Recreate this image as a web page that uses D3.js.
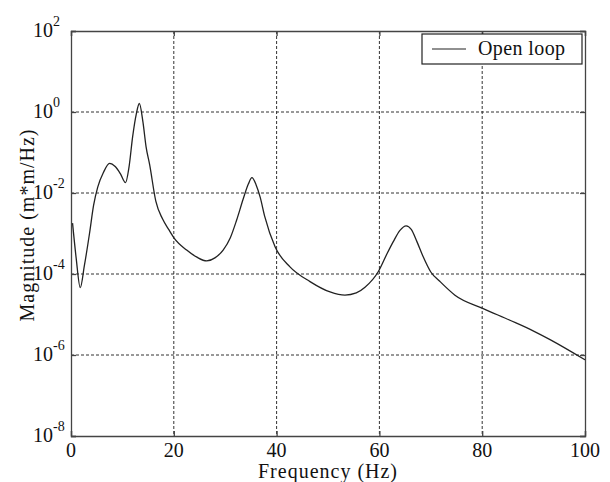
<!DOCTYPE html>
<html>
<head>
<meta charset="utf-8">
<script src="https://cdn.jsdelivr.net/npm/d3@7"></script>
<style>
  body { margin: 0; background: #fff; }
  text { font-family: "Liberation Serif", "Times New Roman", serif; fill: #111; }
</style>
</head>
<body>
<div id="vis"></div>
<script>
// frequency (Hz) and magnitude (m*m/Hz)
var freq = [0.3, 1.0, 1.8, 2.6, 3.6, 4.4, 5.2, 6.3, 7.5, 8.6, 9.6, 10.6, 11.3, 12.0, 12.7,
    13.3, 14.0, 14.6, 15.3, 16.5, 17.8, 19.0, 20.1, 22.5, 24.5, 26.4, 28.0, 29.6, 31.0, 32.2,
    33.5, 34.5, 35.2, 36.0, 36.8, 37.7, 39.7, 42.6, 46.5, 50.4, 53.3, 55.5, 57.2, 59.8, 61.5,
    62.7, 64.0, 65.2, 66.2, 67.3, 68.5, 70.0, 71.8, 74.7, 80.2, 85.4, 90.0, 93.2, 100];
var magnitude = [1.8e-3, 2.5e-4, 4.6e-5, 1.6e-4, 1.0e-3, 5.0e-3, 1.4e-2, 3.2e-2, 5.4e-2, 4.5e-2,
    3.0e-2, 1.8e-2, 4.5e-2, 2.5e-1, 8.9e-1, 1.62, 5.6e-1, 1.4e-1, 5.0e-2, 6.3e-3,
    2.3e-3, 1.26e-3, 7.6e-4, 3.9e-4, 2.6e-4, 2.1e-4, 2.5e-4, 3.9e-4, 7.9e-4, 2.1e-3,
    7.1e-3, 1.66e-2, 2.4e-2, 1.6e-2, 7.9e-3, 2.6e-3, 4.7e-4, 1.5e-4, 6.5e-5, 3.6e-5,
    3.0e-5, 3.4e-5, 4.7e-5, 1.15e-4, 3.2e-4, 6.3e-4, 1.2e-3, 1.55e-3, 1.26e-3, 6.3e-4,
    2.7e-4, 1.12e-4, 6.5e-5, 3.0e-5, 1.4e-5, 7.2e-6, 3.9e-6, 2.4e-6, 7.6e-7];

// tick values
var xTicks = [0, 20, 40, 60, 80, 100];
var yTicks = [1e2, 1e0, 1e-2, 1e-4, 1e-6, 1e-8];
var yExponents = ["2", "0", "-2", "-4", "-6", "-8"];

var seriesName = "Open loop";

var width = 610;
var height = 482;

var margin = {
    top: 31,
    left: 71,
    right: 25,
    bottom: 46
};

var svg = d3.select("#vis")
    .append("svg")
    .attr("width", width)
    .attr("height", height);

var w = width - margin.left - margin.right;
var h = height - margin.top - margin.bottom;

var g = svg.append("g")
    .attr("transform", "translate(" + margin.left + "," + margin.top + ")");

var xscale = d3.scaleLinear()
    .domain([0, 100])
    .range([0, w]);

var yscale = d3.scaleLog()
    .domain([1e-8, 1e2])
    .range([h, 0]);

// dashed grid
g.selectAll(".vgrid")
    .data(xTicks.slice(1, -1))
    .enter()
    .append("line")
    .attr("x1", function(d) { return xscale(d); })
    .attr("x2", function(d) { return xscale(d); })
    .attr("y1", 0)
    .attr("y2", h)
    .attr("stroke", "#333")
    .attr("stroke-dasharray", "3,2");

g.selectAll(".hgrid")
    .data(yTicks.slice(1, -1))
    .enter()
    .append("line")
    .attr("x1", 0)
    .attr("x2", w)
    .attr("y1", function(d) { return yscale(d); })
    .attr("y2", function(d) { return yscale(d); })
    .attr("stroke", "#333")
    .attr("stroke-dasharray", "3,2");

// axes with inward ticks
var xaxis = d3.axisBottom(xscale).tickValues(xTicks).tickSize(-5).tickFormat("");
var xaxisTop = d3.axisTop(xscale).tickValues(xTicks).tickSize(-5).tickFormat("");
var yaxis = d3.axisLeft(yscale).tickValues(yTicks).tickSize(-5).tickFormat("");
var yaxisRight = d3.axisRight(yscale).tickValues(yTicks).tickSize(-5).tickFormat("");

g.append("g").attr("transform", "translate(0," + h + ")").call(xaxis);
g.append("g").call(xaxisTop);
g.append("g").call(yaxis);
g.append("g").attr("transform", "translate(" + w + ",0)").call(yaxisRight);

g.selectAll(".domain, .tick line")
    .attr("stroke", "#444")
    .attr("stroke-width", 1.3);

// x tick labels
g.selectAll(".xlabel")
    .data(xTicks)
    .enter()
    .append("text")
    .attr("x", function(d) { return xscale(d); })
    .attr("y", h + 21)
    .attr("text-anchor", "middle")
    .style("font-size", "20px")
    .text(function(d) { return d; });

// y tick labels, 10 with a raised exponent
var ylab = g.selectAll(".ylabel")
    .data(yTicks)
    .enter()
    .append("g")
    .attr("transform", function(d) { return "translate(-18," + (yscale(d) + 6) + ")"; });

ylab.append("text")
    .attr("text-anchor", "end")
    .style("font-size", "20px")
    .text("10");

ylab.append("text")
    .attr("x", 0)
    .attr("y", -11)
    .style("font-size", "14px")
    .text(function(d, i) { return yExponents[i]; });

// curve
var pts = freq.map(function(f, i) { return [f, magnitude[i]]; });

var line = d3.line()
    .x(function(d) { return xscale(d[0]); })
    .y(function(d) { return yscale(d[1]); })
    .curve(d3.curveMonotoneX);

g.append("path")
    .datum(pts)
    .attr("fill", "none")
    .attr("stroke", "#222")
    .attr("stroke-width", 1.3)
    .attr("d", line);

// legend
var legend = g.append("g")
    .attr("transform", "translate(" + (w - 163) + ",3)");

legend.append("rect")
    .attr("width", 160)
    .attr("height", 30)
    .attr("fill", "#fff")
    .attr("stroke", "#222")
    .attr("stroke-width", 1.2);

legend.append("line")
    .attr("x1", 10)
    .attr("x2", 44)
    .attr("y1", 15)
    .attr("y2", 15)
    .attr("stroke", "#222")
    .attr("stroke-width", 1.2);

legend.append("text")
    .attr("x", 56)
    .attr("y", 21)
    .style("font-size", "20px")
    .style("letter-spacing", "0.4px")
    .text(seriesName);

// axis titles
svg.append("text")
    .attr("x", 328)
    .attr("y", 478)
    .attr("text-anchor", "middle")
    .style("font-size", "20px")
    .style("letter-spacing", "1px")
    .text("Frequency (Hz)");

svg.append("text")
    .attr("transform", "translate(34,225) rotate(-90)")
    .attr("text-anchor", "middle")
    .style("font-size", "20px")
    .style("letter-spacing", "1px")
    .text("Magnitude (m*m/Hz)");
</script>
</body>
</html>
